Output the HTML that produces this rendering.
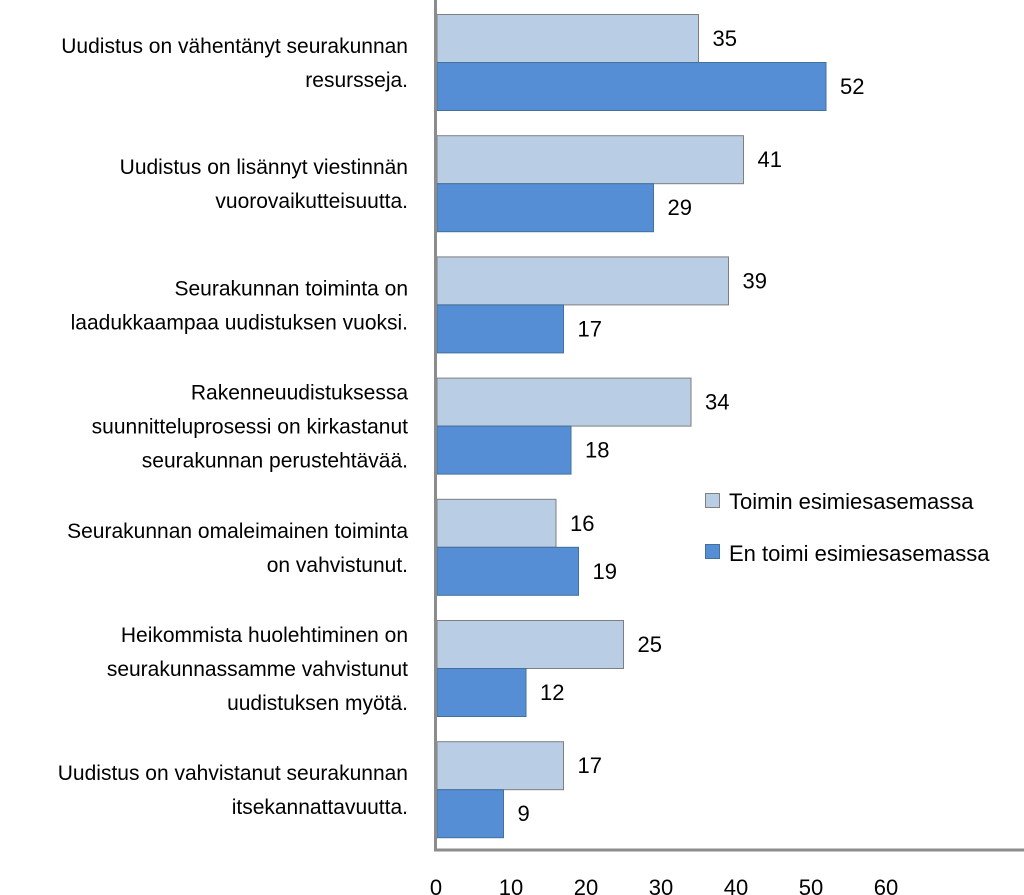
<!DOCTYPE html>
<html><head><meta charset="utf-8"><style>body{margin:0;background:#fff}svg{display:block;font-family:"Liberation Sans",sans-serif}</style></head>
<body>
<svg width="1024" height="895" viewBox="0 0 1024 895">
<g id="bars"></g>
<line x1="435.5" y1="0" x2="435.5" y2="851" stroke="#8c8c8c" stroke-width="3"/>
<line x1="434" y1="850" x2="1024" y2="850" stroke="#8c8c8c" stroke-width="3"/>
<g id="ticks"></g>
<g id="labels"></g>
<g>
<rect x="705.5" y="493.5" width="14" height="14" fill="#b9cde5" stroke="#7f7f7f"/>
<text x="729" y="509" font-size="22" fill="#000">Toimin esimiesasemassa</text>
<rect x="705.5" y="544.5" width="14" height="14" fill="#558ed5" stroke="#41719c"/>
<text x="729" y="561" font-size="22" fill="#000">En toimi esimiesasemassa</text>
</g>
</svg>
<script>
const categories=[
["Uudistus on vähentänyt seurakunnan","resursseja."],
["Uudistus on lisännyt viestinnän","vuorovaikutteisuutta."],
["Seurakunnan toiminta on","laadukkaampaa uudistuksen vuoksi."],
["Rakenneuudistuksessa","suunnitteluprosessi on kirkastanut","seurakunnan perustehtävää."],
["Seurakunnan omaleimainen toiminta","on vahvistunut."],
["Heikommista huolehtiminen on","seurakunnassamme vahvistunut","uudistuksen myötä."],
["Uudistus on vahvistanut seurakunnan","itsekannattavuutta."]];
const toimin=[35,41,39,34,16,25,17];
const enToimi=[52,29,17,18,19,12,9];
const tickLabels=[0,10,20,30,40,50,60];
const NS="http://www.w3.org/2000/svg";
const x0=436,pxPer=7.5;
function xs(v){return x0+v*pxPer;}
function gy(i){return 14+i*121.2;}
const bars=document.getElementById('bars'),labels=document.getElementById('labels'),ticks=document.getElementById('ticks');
function mk(tag,attrs,parent){const e=document.createElementNS(NS,tag);for(const k in attrs)e.setAttribute(k,attrs[k]);parent.appendChild(e);return e;}
categories.forEach((c,i)=>{
  const y=gy(i),h=48;
  [[toimin[i],"#b9cde5","#7f7f7f",y,"toimin"],[enToimi[i],"#558ed5","#41719c",y+h,"en-toimi"]].forEach(s=>{
    const r=mk('rect',{x:x0+1,y:s[3]+0.5,width:xs(s[0])-x0-1,height:h,fill:s[1],stroke:s[2],'stroke-width':1},bars);
    
    
    const t=mk('text',{x:xs(s[0])+14,y:s[3]+h/2+8,'font-size':22,fill:'#000'},bars);
    t.textContent=s[0];
    
    
  });
  const cy=y+h, n=c.length;
  c.forEach((line,j)=>{
    const t=mk('text',{x:408,y:cy+(j-(n-1)/2)*34+8,'font-size':21,'text-anchor':'end',fill:'#000'},labels);
    t.textContent=line;
    
    
  });
});
tickLabels.forEach(v=>{
  const t=mk('text',{x:xs(v),y:895,'font-size':22,'text-anchor':'middle',fill:'#000'},ticks);
  t.textContent=v;
  
  
});
</script>
</body></html>
